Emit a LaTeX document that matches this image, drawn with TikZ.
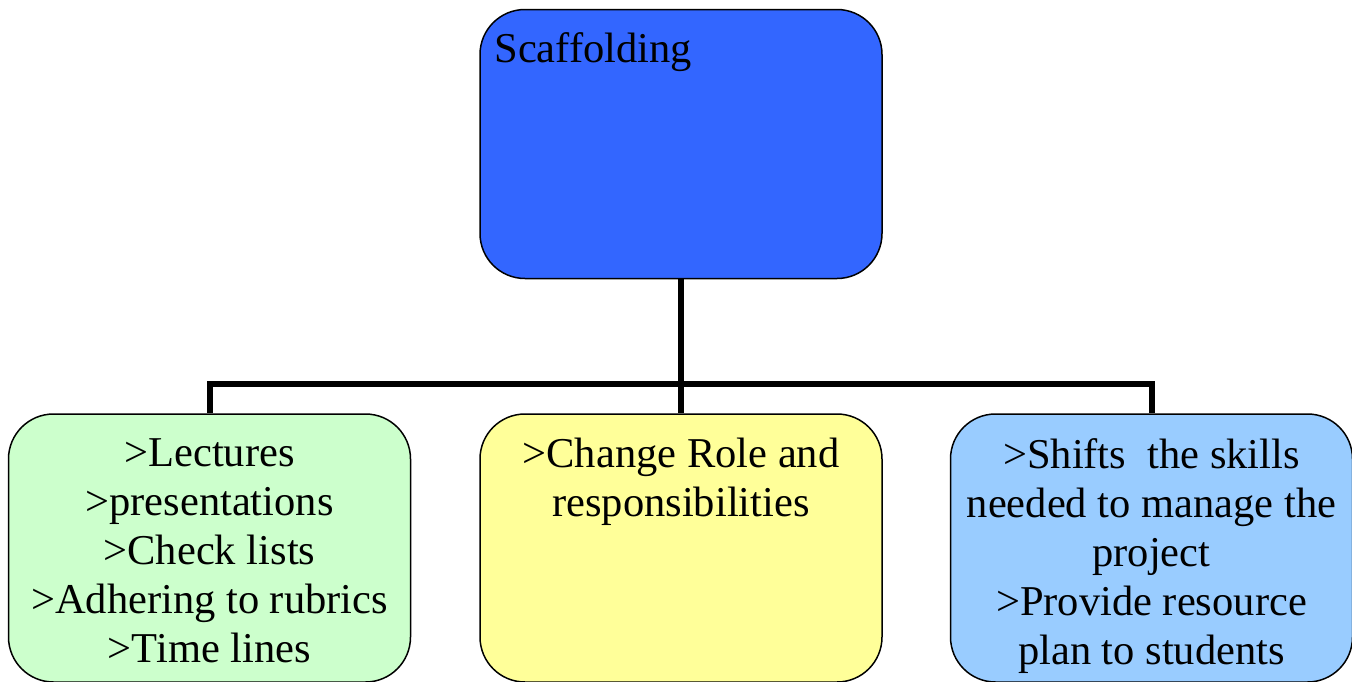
\documentclass[tikz,border=0pt]{standalone}
\usepackage{fontspec}
\setmainfont{Liberation Serif}
\usetikzlibrary{calc, positioning}

\definecolor{topblue}{HTML}{3366FF}
\definecolor{lecgreen}{HTML}{CCFFCC}
\definecolor{midyellow}{HTML}{FFFF99}
\definecolor{resblue}{HTML}{99CCFF}

\tikzset{
  box/.style={draw, line width=1.5pt, rectangle, rounded corners=45pt, minimum width=402pt, minimum height=268pt, inner sep=0pt},
  txt/.style={inner sep=0pt, align=center, font=\fontsize{42.5}{49}\selectfont},
  conn/.style={line width=6pt}
}

\begin{document}
\begin{tikzpicture}[x=1pt, y=-1pt]
                    \useasboundingbox (0,0) rectangle (1352,681);

                    \node[box, fill=topblue, minimum height=269pt] (top) at (681,144) {};
                    \node[box, fill=midyellow] (mid) [below=134pt of top] {};
                    \node[box, fill=lecgreen] (lec) [left=68pt of mid] {};
                    \node[box, fill=resblue] (res) [right=67pt of mid] {};

                    \node[txt, anchor=north west] (topt) [below right=24pt and 15pt of top.north west] {Scaffolding};
                    \node[txt, anchor=north] (lect) [below=25pt of lec.north] {>Lectures\\>presentations\\>Check lists\\>Adhering to rubrics\\>Time lines};
                    \node[txt, anchor=north] (midt) [below=25pt of mid.north] {>Change Role and\\responsibilities};
                    \node[txt, anchor=north] (rest) [below=25pt of res.north] {>Shifts\ \ the skills\\needed to manage the\\project\\>Provide resource\\plan to students};

                    \coordinate (hub) at ($(top.south)!0.78!(mid.north)$);
                    \draw[conn] (top.south) -- (mid.north);
                    \draw[conn] (hub) -| (lec.north);
                    \draw[conn] (hub) -| (res.north);
                \end{tikzpicture}
\end{document}
